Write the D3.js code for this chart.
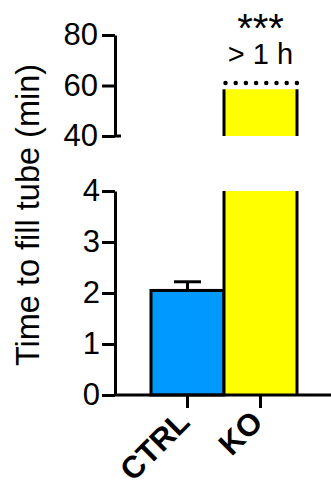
<!DOCTYPE html>
<html><head><meta charset="utf-8">
<script src="https://cdn.jsdelivr.net/npm/d3@7"></script>
<style>
html,body{margin:0;padding:0;background:#fff;}
svg{display:block;font-family:"Liberation Sans",Arial,sans-serif;}
</style></head>
<body>
<svg id="c" width="331" height="491"></svg>
<script>
// Data
const categories = ["CTRL", "KO"];
const means = [2.05, 58.5];      // minutes
const errors = [0.17, 0];        // SEM
const colors = ["#0099FF", "#FFFF00"];
const lowerTicks = [0, 1, 2, 3, 4];
const upperTicks = [40, 60, 80];
const cutoffValue = 61;          // dotted line (> 1 h)
const sigLabel = "***";
const cutoffLabel = "> 1 h";
const yTitle = "Time to fill tube (min)";

const svg = d3.select("#c");
const axisX = 115;
const x = d3.scaleBand().domain(categories).range([151, 297]).padding(0);
const yLow = d3.scaleLinear().domain([0, 4]).range([395, 191]);
const yUp = d3.scaleLinear().domain([40, 80]).range([136, 35]);
const SW = 3;

// Bars
categories.forEach((c, i) => {
  const v = means[i];
  const x0 = x(c), w = x.bandwidth();
  const top = Math.min(v, 4);
  svg.append("rect").attr("x", x0).attr("y", yLow(top)).attr("width", w)
    .attr("height", yLow(0) - yLow(top)).attr("fill", colors[i]);
  if (v <= 4) {
    svg.append("rect").attr("x", x0).attr("y", yLow(v)).attr("width", w)
      .attr("height", yLow(0) - yLow(v)).attr("fill", "none")
      .attr("stroke", "#000").attr("stroke-width", SW);
    if (errors[i] > 0) {
      const cx = x0 + w / 2;
      svg.append("line").attr("x1", cx).attr("x2", cx)
        .attr("y1", yLow(v)).attr("y2", yLow(v + errors[i]))
        .attr("stroke", "#000").attr("stroke-width", SW);
      svg.append("line").attr("x1", cx - 13.5).attr("x2", cx + 13.5)
        .attr("y1", yLow(v + errors[i])).attr("y2", yLow(v + errors[i]))
        .attr("stroke", "#000").attr("stroke-width", SW);
    }
  } else {
    [x0, x0 + w].forEach(xx => svg.append("line").attr("x1", xx).attr("x2", xx)
      .attr("y1", yLow(4)).attr("y2", yLow(0)).attr("stroke", "#000").attr("stroke-width", SW));
    svg.append("rect").attr("x", x0).attr("y", yUp(v)).attr("width", w)
      .attr("height", yUp(40) - yUp(v)).attr("fill", colors[i]);
    [x0, x0 + w].forEach(xx => svg.append("line").attr("x1", xx).attr("x2", xx)
      .attr("y1", yUp(v)).attr("y2", yUp(40)).attr("stroke", "#000").attr("stroke-width", SW));
    svg.append("line").attr("x1", x0 + 1.5).attr("x2", x0 + w)
      .attr("y1", yUp(cutoffValue)).attr("y2", yUp(cutoffValue))
      .attr("stroke", "#000").attr("stroke-width", 4.5)
      .attr("stroke-linecap", "round").attr("stroke-dasharray", "0 10.2");
    const cx = x0 + w / 2;
    svg.append("text").attr("x", cx).attr("y", 42).attr("text-anchor", "middle")
      .attr("font-size", 40).text(sigLabel);
    svg.append("text").attr("x", cx).attr("y", 64).attr("text-anchor", "middle")
      .attr("font-size", 29).text(cutoffLabel);
  }
});

// Y axes
function styleAxis(g) {
  g.selectAll("path, line").attr("stroke", "#000").attr("stroke-width", SW);
  g.selectAll("text").attr("font-size", 31).attr("fill", "#000")
    .attr("font-family", "'Liberation Sans', Arial, sans-serif");
}
svg.append("g").attr("transform", `translate(${axisX},0)`)
  .call(d3.axisLeft(yLow).tickValues(lowerTicks).tickFormat(d3.format("d"))
    .tickSize(13).tickSizeOuter(0).tickPadding(2))
  .call(styleAxis);
svg.append("g").attr("transform", `translate(${axisX},0)`)
  .call(d3.axisLeft(yUp).tickValues(upperTicks).tickFormat(d3.format("d"))
    .tickSize(13).tickSizeOuter(0).tickPadding(4))
  .call(styleAxis);
svg.append("line").attr("x1", axisX).attr("x2", axisX + 6)
  .attr("y1", yUp(40)).attr("y2", yUp(40)).attr("stroke", "#000").attr("stroke-width", SW);

// X axis
svg.append("line").attr("x1", axisX).attr("x2", 331).attr("y1", yLow(0)).attr("y2", yLow(0))
  .attr("stroke", "#000").attr("stroke-width", SW);
const xa = svg.append("g").attr("transform", `translate(0,${yLow(0)})`)
  .call(d3.axisBottom(x).tickSize(13).tickSizeOuter(0));
xa.select(".domain").remove();
xa.selectAll("line").attr("stroke", "#000").attr("stroke-width", SW);
xa.selectAll("text")
  .attr("font-size", 31).attr("font-weight", "bold").attr("fill", "#000")
  .attr("font-family", "'Liberation Sans', Arial, sans-serif")
  .attr("text-anchor", "end").attr("y", 0).attr("dy", 0)
  .attr("transform", "translate(4,29) rotate(-45)");

// Y title
svg.append("text").attr("transform", `translate(39,215) rotate(-90)`)
  .attr("text-anchor", "middle").attr("font-size", 32.5).text(yTitle);
</script>
</body></html>
